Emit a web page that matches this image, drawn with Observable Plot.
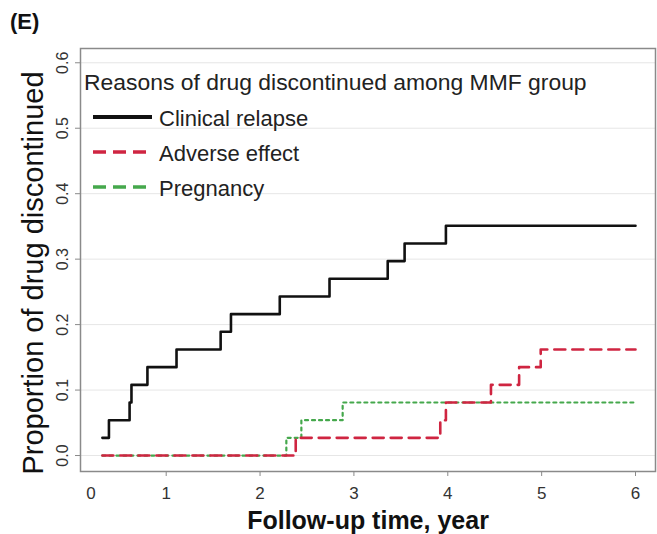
<!DOCTYPE html>
<html>
<head>
<meta charset="utf-8">
<script src="https://cdn.jsdelivr.net/npm/d3@7"></script>
<script src="https://cdn.jsdelivr.net/npm/@observablehq/plot@0.6"></script>
<style>
  html, body { margin: 0; padding: 0; background: #fff; }
  #wrap { position: relative; width: 657px; height: 534px; font-family: "Liberation Sans", Arial, sans-serif; }
  #wrap > svg.overlay { position: absolute; left: 0; top: 0; pointer-events: none; }
</style>
</head>
<body>
<div id="wrap"></div>
<script>
// ---- data ----
const relapseTime = [0.32, 0.39, 0.61, 0.63, 0.80, 1.11, 1.58, 1.69, 2.21, 2.74, 3.36, 3.54, 3.98, 6.0];
const relapseProp = [0.027, 0.054, 0.081, 0.108, 0.135, 0.162, 0.189, 0.216, 0.243, 0.270, 0.297, 0.324, 0.351, 0.351];
const adverseTime = [0.32, 2.38, 3.92, 3.98, 4.46, 4.76, 4.99, 6.0];
const adverseProp = [0, 0.027, 0.054, 0.081, 0.108, 0.135, 0.162, 0.162];
const pregnancyTime = [0.32, 2.28, 2.44, 2.88, 6.0];
const pregnancyProp = [0, 0.027, 0.054, 0.081, 0.081];

const seriesNames = ["Clinical relapse", "Adverse effect", "Pregnancy"];
const seriesColors = ["#111111", "#cf2541", "#45a84c"];
const xTicks = [1, 2, 3, 4, 5, 6];
const xZeroLabelPos = [0.2];
const yTicks = [0, 0.1, 0.2, 0.3, 0.4, 0.5, 0.6];
const panelLabel = "(E)";
const legendTitle = "Reasons of drug discontinued among MMF group";
const xTitle = "Follow-up time, year";
const yTitle = "Proportion of drug discontinued";

const toRows = (ts, ps) => ts.map((t, i) => ({t, p: ps[i]}));
const relapse = toRows(relapseTime, relapseProp);
const adverse = toRows(adverseTime, adverseProp);
const pregnancy = toRows(pregnancyTime, pregnancyProp);

const font = "Liberation Sans, Arial, sans-serif";

const chart = Plot.plot({
  width: 657,
  height: 534,
  marginLeft: 80,
  marginRight: 2,
  marginTop: 48,
  marginBottom: 63,
  style: {fontFamily: font, background: "#fff", color: "#333", fontSize: "16px"},
  x: {domain: [0.087, 6.213]},
  y: {domain: [-0.0244, 0.6218]},
  marks: [
    Plot.gridY(yTicks, {stroke: "#e6e6e6", strokeOpacity: 1, strokeWidth: 1}),
    Plot.frame({stroke: "#8a8a8a", strokeWidth: 1.5}),
    Plot.axisY(yTicks, {
      tickFormat: d3.format(".1f"), tickRotate: -90, tickSize: 5, tickPadding: 8,
      fontSize: 16, stroke: "#8a8a8a", fill: "#333", label: null
    }),
    Plot.axisX(xTicks, {
      tickSize: 5, tickPadding: 10, fontSize: 17, stroke: "#8a8a8a", fill: "#333", label: null
    }),
    Plot.axisX(xZeroLabelPos, {
      tickSize: 0, tickPadding: 15, fontSize: 17, fill: "#333", tickFormat: () => "0", label: null
    }),
    Plot.line(pregnancy, {x: "t", y: "p", curve: "step-after", stroke: seriesColors[2], strokeWidth: 2.2, strokeDasharray: "3,4"}),
    Plot.line(adverse, {x: "t", y: "p", curve: "step-after", stroke: seriesColors[1], strokeWidth: 2.6, strokeDasharray: "11,7"}),
    Plot.line(relapse, {x: "t", y: "p", curve: "step-after", stroke: seriesColors[0], strokeWidth: 2.6}),
    Plot.text([xTitle], {frameAnchor: "bottom", dy: 49, lineAnchor: "middle", fontSize: 25, fontWeight: "bold", fill: "#111"}),
    Plot.text([yTitle], {frameAnchor: "left", rotate: -90, dx: -47, dy: 13, lineAnchor: "middle", textAnchor: "middle", fontSize: 29, fill: "#111"})
  ]
});

// make sure tick label sizes are applied
d3.select(chart).selectAll('g[aria-label="y-axis tick label"]').attr("font-size", 16);
d3.select(chart).selectAll('g[aria-label="x-axis tick label"]').attr("font-size", 17);

const wrap = document.getElementById("wrap");
wrap.appendChild(chart);

// overlay: panel label and in-plot legend
const ov = d3.select(wrap).append("svg").attr("class", "overlay")
  .attr("width", 657).attr("height", 534).style("font-family", font);

ov.append("text").attr("x", 10).attr("y", 29).attr("font-size", 22).attr("font-weight", "bold")
  .attr("fill", "#111").text(panelLabel);

ov.append("text").attr("x", 84).attr("y", 82).attr("dominant-baseline", "central")
  .attr("font-size", 22.9).attr("fill", "#222").text(legendTitle);

const rowY = [117, 152, 187];
const dash = [null, "13,7", "13,7"];
const lw = [4, 3.5, 3.5];
seriesNames.forEach((name, i) => {
  const ln = ov.append("line").attr("x1", 93).attr("x2", 152).attr("y1", rowY[i]).attr("y2", rowY[i])
    .attr("stroke", seriesColors[i]).attr("stroke-width", lw[i]);
  if (dash[i]) ln.attr("stroke-dasharray", dash[i]);
  ov.append("text").attr("x", 159).attr("y", rowY[i] + 1).attr("dominant-baseline", "central")
    .attr("font-size", 22).attr("fill", "#222").text(name);
});
</script>
</body>
</html>
